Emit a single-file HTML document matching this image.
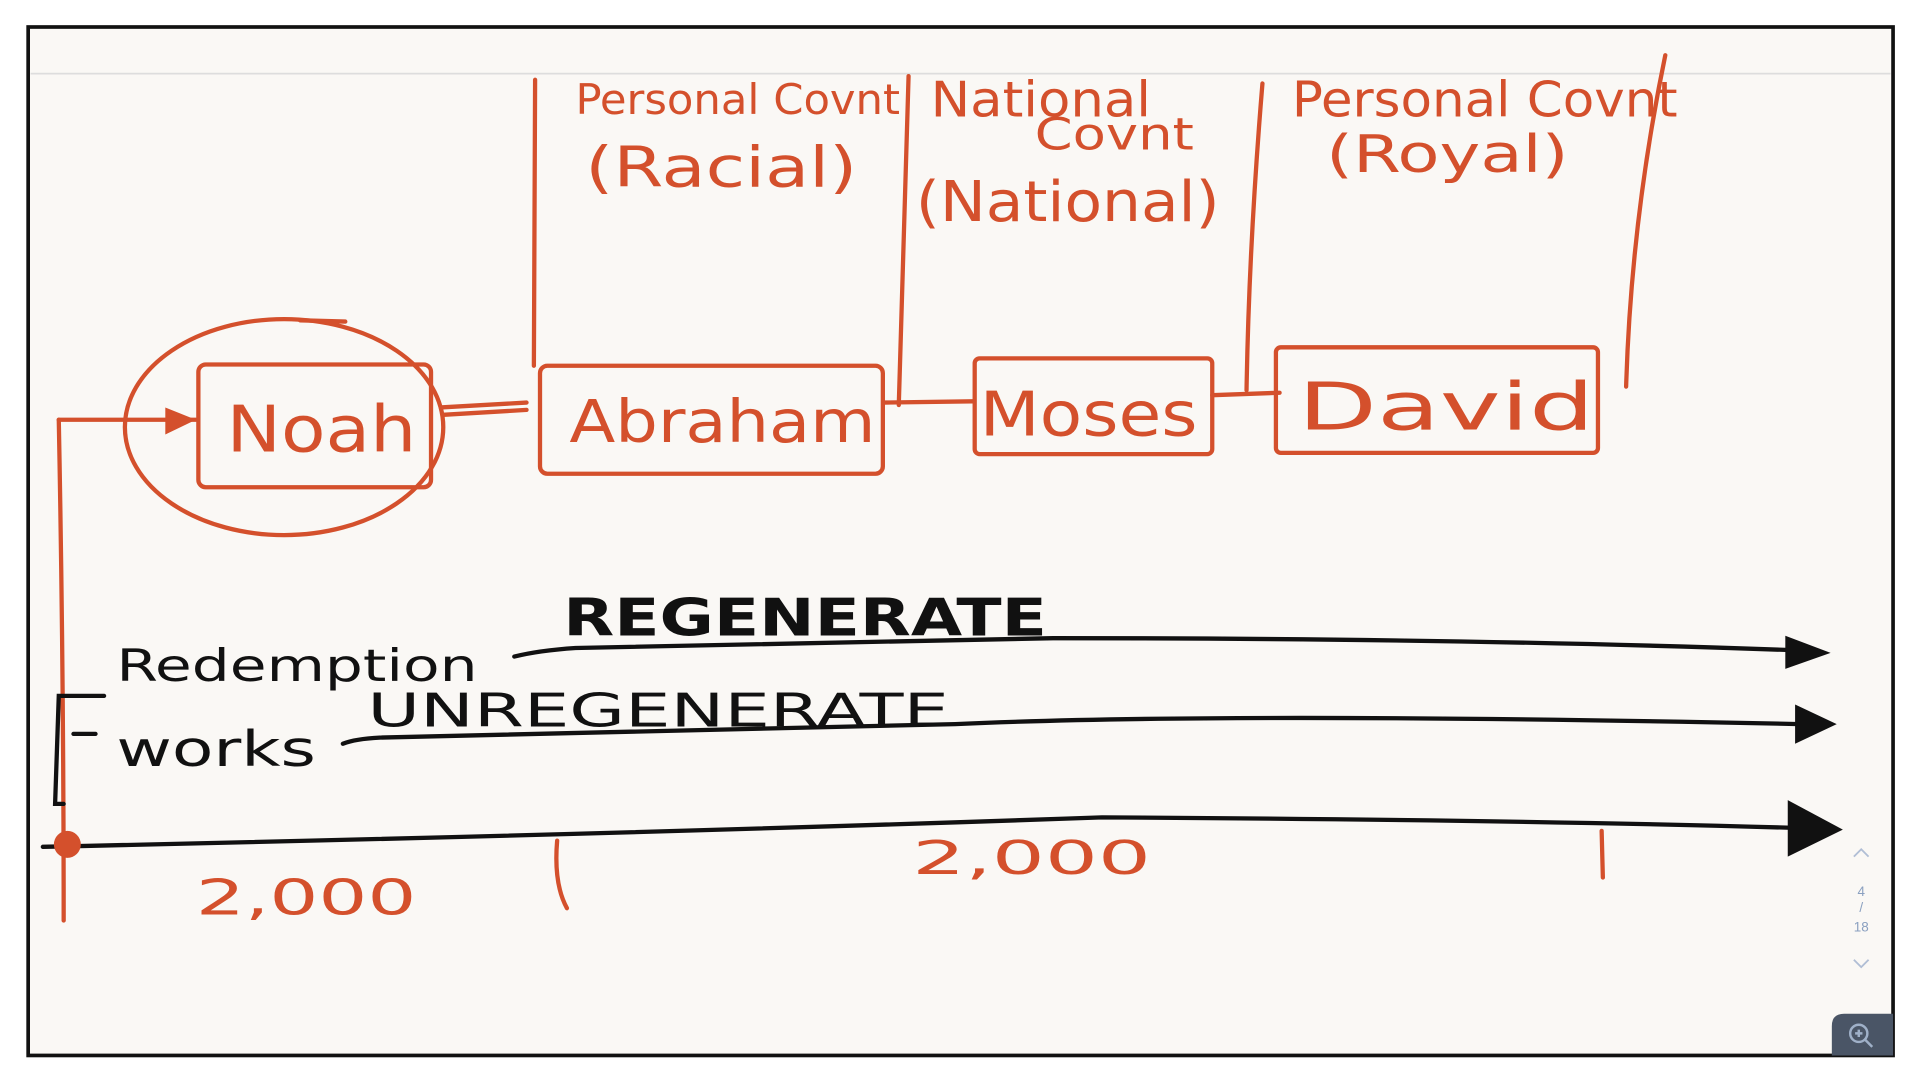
<!DOCTYPE html>
<html><head><meta charset="utf-8"><style>
html,body{margin:0;padding:0;background:#fff;}
svg{display:block;}
.r{fill:#d4502c;font-family:"DejaVu Sans Condensed","Liberation Sans Narrow","Liberation Sans",sans-serif;}
.k{fill:#111;font-family:"DejaVu Sans Condensed","Liberation Sans Narrow","Liberation Sans",sans-serif;}
</style></head><body>
<svg width="1920" height="1080" viewBox="0 0 1568 880" preserveAspectRatio="none" xmlns="http://www.w3.org/2000/svg">
<rect x="0" y="0" width="1568" height="880" fill="#fff"/>
<rect x="23" y="22" width="1523" height="838" fill="#faf8f5" stroke="#111" stroke-width="3"/>
<line x1="25" y1="60" x2="1544" y2="60" stroke="#ddd" stroke-width="1.5"/>
<g stroke="#d4502c" stroke-width="3.5" fill="none" stroke-linecap="round">
<path d="M437 65 L436 298"/>
<path d="M742 62 Q738 200 734 330"/>
<path d="M1031 68 Q1020 200 1018 318"/>
<path d="M1360 45 Q1332 180 1328 315"/>
<ellipse cx="232" cy="348" rx="130" ry="88"/>
<path d="M245 261 L282 262"/>
<rect x="162" y="297" width="190" height="100" rx="6"/>
<rect x="441" y="298" width="280" height="88" rx="6"/>
<rect x="796" y="292" width="194" height="78" rx="4"/>
<rect x="1042" y="283" width="263" height="86" rx="4"/>
<path d="M360 332 L430 328 M362 338 L430 334"/>
<path d="M722 328 L795 327"/>
<path d="M990 322 L1045 320"/>
<path d="M48 342 L160 342"/>
<path d="M48 342 Q52 550 52 750"/>
<path d="M455 685 Q452 720 463 740"/>
<path d="M1308 677 L1309 715"/>
</g>
<polygon points="135,332 160,342 135,354" fill="#d4502c"/>
<g stroke="#111" stroke-width="3.5" fill="none" stroke-linecap="round">
<path d="M420 535 Q440 530 470 528 L860 520 Q1200 520 1470 530"/>
<path d="M280 606 Q290 602 310 601 L780 590 Q1000 580 1470 590"/>
<path d="M35 690 Q500 680 900 666 Q1250 668 1480 675"/>
<path d="M85 567 L48 567 L45 655 L52 655 M78 598 L60 598"/>
</g>
<polygon points="1458,518 1495,532 1458,545" fill="#111"/>
<polygon points="1466,574 1500,590 1466,606" fill="#111"/>
<polygon points="1460,652 1505,676 1460,698" fill="#111"/>
<circle cx="55" cy="688" r="11" fill="#d4502c"/>
<text class="r" x="470" y="93" font-size="34" textLength="265" lengthAdjust="spacingAndGlyphs">Personal Covnt</text>
<text class="r" x="478" y="152" font-size="46" textLength="222" lengthAdjust="spacingAndGlyphs">(Racial)</text>
<text class="r" x="760" y="95" font-size="40" textLength="180" lengthAdjust="spacingAndGlyphs">National</text>
<text class="r" x="845" y="122" font-size="36" textLength="130" lengthAdjust="spacingAndGlyphs">Covnt</text>
<text class="r" x="748" y="180" font-size="46" textLength="248" lengthAdjust="spacingAndGlyphs">(National)</text>
<text class="r" x="1055" y="95" font-size="40" textLength="315" lengthAdjust="spacingAndGlyphs">Personal Covnt</text>
<text class="r" x="1083" y="140" font-size="42" textLength="198" lengthAdjust="spacingAndGlyphs">(Royal)</text>
<text class="r" x="185" y="368" font-size="52" textLength="155" lengthAdjust="spacingAndGlyphs">Noah</text>
<text class="r" x="465" y="360" font-size="48" textLength="250" lengthAdjust="spacingAndGlyphs">Abraham</text>
<text class="r" x="800" y="355" font-size="50" textLength="178" lengthAdjust="spacingAndGlyphs">Moses</text>
<text class="r" x="1060" y="350" font-size="54" textLength="242" lengthAdjust="spacingAndGlyphs">David</text>
<text class="k" x="460" y="518" font-size="42" font-weight="bold" textLength="395" lengthAdjust="spacingAndGlyphs">REGENERATE</text>
<text class="k" x="95" y="555" font-size="36" textLength="295" lengthAdjust="spacingAndGlyphs">Redemption</text>
<text class="k" x="300" y="592" font-size="38" textLength="475" lengthAdjust="spacingAndGlyphs">UNREGENERATE</text>
<text class="k" x="95" y="624" font-size="40" textLength="163" lengthAdjust="spacingAndGlyphs">works</text>
<text class="r" x="160" y="745" font-size="40" textLength="180" lengthAdjust="spacingAndGlyphs">2,000</text>
<text class="r" x="745" y="712" font-size="38" textLength="195" lengthAdjust="spacingAndGlyphs">2,000</text>
<g fill="#8aa0c0" font-family="Liberation Sans,sans-serif" font-size="11" text-anchor="middle">
<text x="1520" y="730">4</text><text x="1520" y="743">/</text><text x="1520" y="759">18</text>
</g>
<path d="M1514 698 L1520 692 L1526 698 M1514 782 L1520 788 L1526 782" stroke="#b0bed5" stroke-width="1.5" fill="none"/>
<path d="M1496 860 L1496 836 Q1496 826 1506 826 L1546 826 L1546 860 Z" fill="#4a5566"/>
<circle cx="1518" cy="842" r="7" stroke="#9fb0c8" stroke-width="2" fill="none"/>
<path d="M1523 847 L1529 853 M1515 842 L1521 842 M1518 839 L1518 845" stroke="#9fb0c8" stroke-width="2"/>
</svg>
</body></html>
